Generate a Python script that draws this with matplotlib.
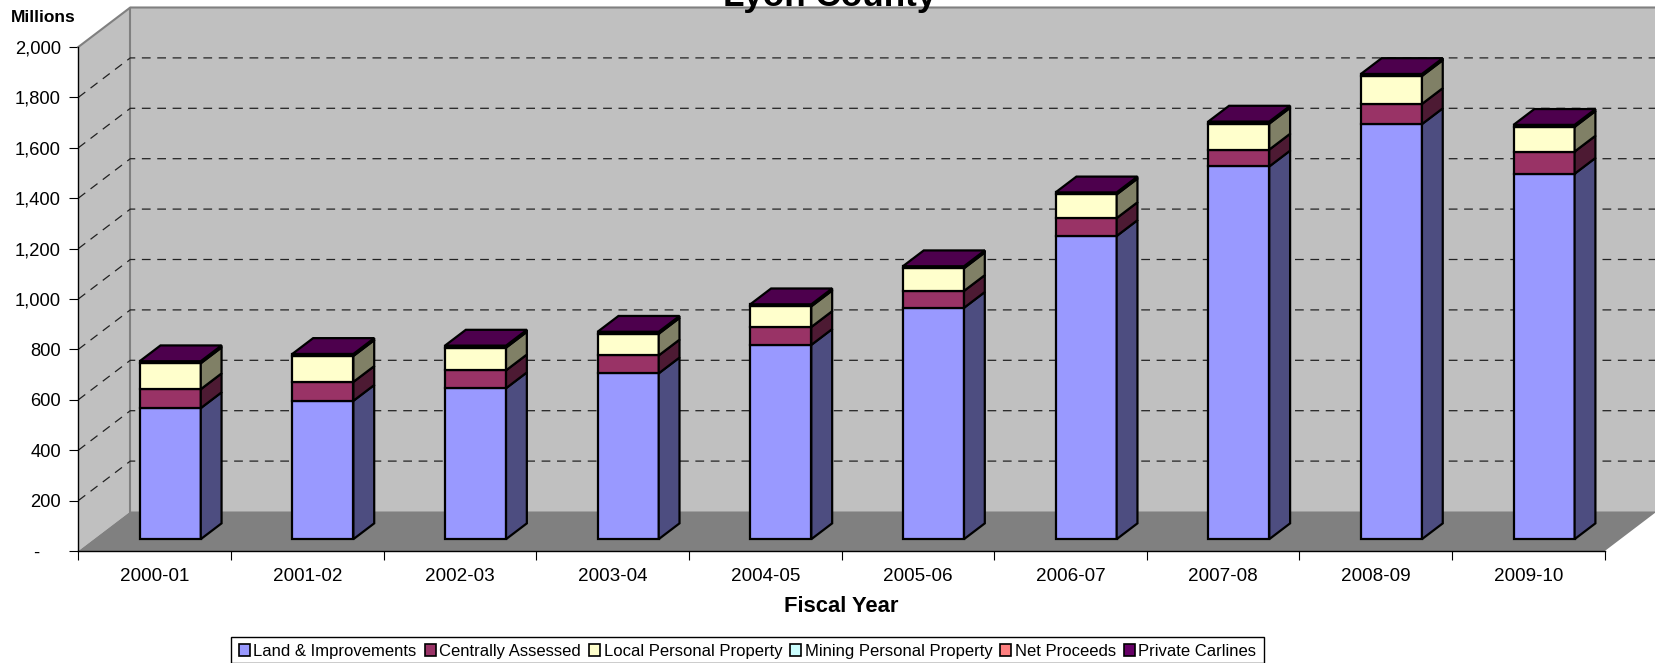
import matplotlib
matplotlib.use('Agg')
import matplotlib.pyplot as plt
from matplotlib.patches import Patch, Rectangle

plt.rcParams['font.family'] = ['Liberation Sans', 'DejaVu Sans']

#chart data
YEARS = ['2000-01', '2001-02', '2002-03', '2003-04', '2004-05',
         '2005-06', '2006-07', '2007-08', '2008-09', '2009-10']
LAND = [520, 549, 599, 658, 771, 918, 1203, 1479, 1647, 1450]
CENTRAL = [75, 75, 71, 71, 71, 67, 71, 67, 80, 88]
LOCAL = [103, 103, 90, 86, 82, 90, 94, 103, 111, 98]
MINING = [0, 0, 0, 0, 0, 0, 0, 0, 0, 0]
NET = [0, 0, 0, 0, 0, 0, 0, 0, 0, 0]
CARLINES = [8, 8, 8, 8, 8, 8, 8, 8, 8, 8]
NAMES = ['Land & Improvements', 'Centrally Assessed', 'Local Personal Property',
         'Mining Personal Property', 'Net Proceeds', 'Private Carlines']
SERIES = [LAND, CENTRAL, LOCAL, MINING, NET, CARLINES]
COLORS = ['#9999FF', '#993366', '#FFFFCC', '#CCFFFF', '#FF8080', '#660066']

#3d look
W, H = 1656, 663
DX = 52 / 152.65   #depth in category units
DY = 39.5 / 0.252  #depth in value units
BAR_W = 0.4
NEAR = 0.3
FAR = 0.7


def shade(col, k):
    rgb = matplotlib.colors.to_rgb(col)
    return tuple(c * k for c in rgb)


fig = plt.figure(figsize=(W / 100, H / 100), dpi=100)
ax = fig.add_axes([78.3 / W, (H - 551) / H, 1526.5 / W, 504 / H])
ax.set_xlim(0, 10)
ax.set_ylim(0, 2000)
ax.patch.set_visible(False)

#walls and floor
ax.fill([0, DX, DX, 0], [0, DY, 2000 + DY, 2000], fc='#C0C0C0', ec='none', clip_on=False, zorder=1)
ax.fill([DX, 10 + DX, 10 + DX, DX], [DY, DY, 2000 + DY, 2000 + DY], fc='#C0C0C0', ec='none', clip_on=False, zorder=1)
ax.fill([0, 10, 10 + DX, DX], [0, 0, DY, DY], fc='#808080', ec='none', clip_on=False, zorder=2)
ax.plot([0, DX, 10 + DX], [2000, 2000 + DY, 2000 + DY], color='#808080', lw=1.5, clip_on=False, zorder=3)
ax.plot([DX, DX], [DY, 2000 + DY], color='#808080', lw=1.5, clip_on=False, zorder=3)

#gridlines
for v in range(200, 2000, 200):
    ax.plot([0, DX, 10 + DX], [v, v + DY, v + DY], color='#222222', lw=0.9,
            ls=(0, (7, 5.3)), clip_on=False, zorder=3)

#bars
for i in range(len(YEARS)):
    x0 = i + 0.5 + NEAR * DX - BAR_W / 2
    x1 = x0 + BAR_W
    off = NEAR * DY
    sx = (FAR - NEAR) * DX
    sy = (FAR - NEAR) * DY
    base = 0
    last = None
    for vals, col in zip(SERIES, COLORS):
        v = vals[i]
        if v == 0:
            continue
        b = base + off
        t = b + v
        ax.bar(x0, v, BAR_W, bottom=b, align='edge', fc=col, ec='black', lw=1.6, zorder=5, clip_on=False)
        ax.fill([x1, x1 + sx, x1 + sx, x1], [b, b + sy, t + sy, t], fc=shade(col, 0.5),
                ec='black', lw=1.6, zorder=5, clip_on=False)
        base += v
        last = (t, col)
    t, col = last
    ax.fill([x0, x1, x1 + sx, x0 + sx], [t, t, t + sy, t + sy], fc=shade(col, 0.75),
            ec='black', lw=1.6, zorder=6, clip_on=False)

#axes
for s in ['top', 'right']:
    ax.spines[s].set_visible(False)
for s in ['left', 'bottom']:
    ax.spines[s].set_linewidth(1.0)
    ax.spines[s].set_zorder(7)
ax.set_yticks(range(0, 2001, 200))
ax.set_yticklabels(['-\u00a0\u00a0\u00a0\u00a0'] + ['{:,}'.format(v) for v in range(200, 2001, 200)])
ax.set_xticks(range(0, 11))
ax.set_xticklabels([])
ax.set_xticks([i + 0.5 for i in range(10)], minor=True)
ax.set_xticklabels(YEARS, minor=True)
ax.tick_params(axis='x', which='major', length=6.5, width=0.8)
ax.tick_params(axis='x', which='minor', length=0, labelsize=13.6, pad=12)
ax.tick_params(axis='y', length=6.5, width=0.8, labelsize=13.2, pad=6)

fig.text(830 / W, 1 - 6 / H, 'Lyon County', fontsize=25.3, fontweight='bold', ha='center', va='baseline')
fig.text(43 / W, 1 - 17 / H, 'Millions', fontsize=12.5, fontweight='bold', ha='center', va='center')
fig.text(841 / W, 1 - 606 / H, 'Fiscal Year', fontsize=15.8, fontweight='bold', ha='center', va='center')

#legend frame sits apart because its text is low in the box
fig.add_artist(Rectangle((231 / W, 0.5 / H), 1033 / W, 25.5 / H, transform=fig.transFigure,
                         fc='white', ec='black', lw=1.0))
handles = [Patch(fc=c, ec='black', lw=1.2) for c in COLORS]
leg = fig.legend(handles, NAMES, ncol=6, loc='center left', bbox_to_anchor=(239 / W, 1 - 651.5 / H),
                 fontsize=12, frameon=False,
                 handlelength=0.65, handleheight=0.75, handletextpad=0.22, columnspacing=0.48,
                 borderpad=0, borderaxespad=0)

fig.savefig('out.png', dpi=100)
